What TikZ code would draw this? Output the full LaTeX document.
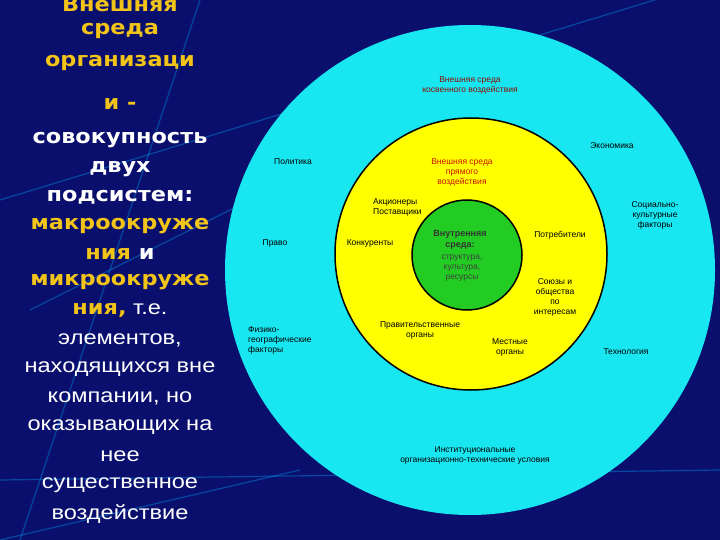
\documentclass[tikz,border=0pt]{standalone}
\usepackage{fontspec}
\setmainfont{Liberation Sans}
\newfontfamily\wideb{DejaVu Sans}[FakeStretch=1.12]
\newfontfamily\wider{Liberation Sans}[FakeStretch=1.18]
\definecolor{bg}{HTML}{0A0F6E}
\definecolor{gold}{HTML}{F2C418}
\definecolor{cy}{HTML}{18E6F0}
\definecolor{ye}{HTML}{FFFF00}
\definecolor{gr}{HTML}{22CC22}
\definecolor{rd}{HTML}{CC1100}
\begin{document}
\begin{tikzpicture}[x=1pt,y=-1pt,
  lb/.style={font=\fontsize{8.5}{10}\selectfont,align=center,inner sep=0pt},
  gt/.style={font=\wideb\fontsize{20}{24}\selectfont\bfseries,text=gold,inner sep=0pt},
  wb/.style={font=\wideb\fontsize{20}{24}\selectfont\bfseries,text=white,inner sep=0pt},
  wt/.style={font=\wider\fontsize{20}{24}\selectfont,text=white,inner sep=0pt}]
\fill[bg] (0,0) rectangle (720,540);
\useasboundingbox (0,0) rectangle (720,540);
\begin{scope}[draw=blue!30!cyan,opacity=0.35,line width=1.2pt]
\draw (200,0) -- (20,540);
\draw (0,200) -- (720,-20);
\draw (30,310) -- (250,200);
\draw (0,480) -- (720,470);
\draw (0,540) -- (300,470);
\end{scope}
\node[circle,fill=cy,minimum size=490,inner sep=0] (outer) at (470,270) {};
\node[circle,fill=ye,draw=black,line width=1.5pt,minimum size=272,inner sep=0] (mid) at (471,254) {};
\node[circle,fill=gr,draw=black,line width=1.5pt,minimum size=110,inner sep=0] (inn) at (467,255) {};
% left text
\node[gt] (t1) at (120,4) {Внешняя};
\node[gt] (t2) at (120,31) {среда};
\node[gt] (t3) at (120,63) {организаци};
\node[gt] (t4) at (120,104) {и -};
\node[wb] (t5) at (120,140) {совокупность};
\node[wb] (t6) at (120,169) {двух};
\node[wb] (t7) at (120,197) {подсистем:};
\node[gt] (t8) at (120,226) {макроокруже};
\node[inner sep=0] (t9) at (120,254) {\wideb\fontsize{20}{24}\selectfont\bfseries\textcolor{gold}{ния}\textcolor{white}{\ и}};
\node[gt] (t10) at (120,282) {микроокруже};
\node[inner sep=0] (t11) at (120,310) {\fontsize{20}{24}\selectfont\textcolor{gold}{\wideb\bfseries ния,}\textcolor{white}{\wider\ т.е.}};
\node[wt] (t12) at (120,340) {элементов,};
\node[wt] (t13) at (120,369) {находящихся вне};
\node[wt] (t14) at (120,398) {компании, но};
\node[wt] (t15) at (120,427) {оказывающих на};
\node[wt] (t16) at (120,456) {нее};
\node[wt] (t17) at (120,485) {существенное};
\node[wt] (t18) at (120,514) {воздействие};
% outer ring labels
\node[lb,text=rd!70!black] (a1) at (470,85) {Внешняя среда\\косвенного воздействия};
\node[lb] (a2) at (612,146) {Экономика};
\node[lb] (a3) at (293,162) {Политика};
\node[lb] (a4) at (655,215) {Социально-\\культурные\\факторы};
\node[lb] (a5) at (275,243) {Право};
\node[lb,align=left,anchor=west] (a6) at (248,340) {Физико-\\географические\\факторы};
\node[lb] (a7) at (626,352) {Технология};
\node[lb] (a8) at (475,455) {Институциональные\\организационно-технические условия};
% yellow
\node[lb,text=rd] (b1) at (462,172) {Внешняя среда\\прямого\\воздействия};
\node[lb,align=left,anchor=west] (b2) at (373,207) {Акционеры\\Поставщики};
\node[lb] (b3) at (370,243) {Конкуренты};
\node[lb] (b4) at (560,235) {Потребители};
\node[lb] (b5) at (555,297) {Союзы и\\общества\\по\\интересам};
\node[lb] (b6) at (420,330) {Правительственные\\органы};
\node[lb] (b7) at (510,347) {Местные\\органы};
% green
\node[lb,font=\fontsize{9}{10.5}\selectfont\bfseries,text=black!80] (c1) at (460,240) {Внутренняя\\среда:};
\node[lb,text=black!75] (c2) at (462,268) {структура,\\культура,\\ресурсы};
\end{tikzpicture}
\end{document}
